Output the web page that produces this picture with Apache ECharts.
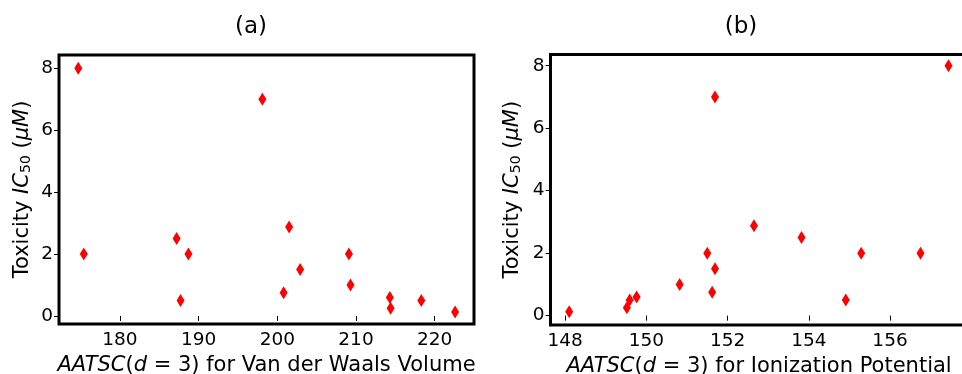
<!DOCTYPE html>
<html>
<head>
<meta charset="utf-8">
<script src="https://cdn.jsdelivr.net/npm/echarts@6/dist/echarts.min.js"></script>
<style>
html,body{margin:0;padding:0;background:#fff;}
#chart{width:962px;height:374px;}
</style>
</head>
<body>
<div id="chart"></div>
<script>
// (a) AATSC(d=3) for Van der Waals Volume
const xA = [174.7, 175.4, 187.2, 187.7, 188.7, 198.1, 200.8, 201.5, 202.9, 209.1, 209.3, 214.3, 214.4, 218.3, 222.6];
const yA = [8, 2, 2.5, 0.5, 2, 7, 0.75, 2.875, 1.5, 2, 1, 0.6, 0.25, 0.5, 0.125];
// (b) AATSC(d=3) for Ionization Potential
const xB = [148.1, 149.52, 149.59, 149.76, 150.82, 151.5, 151.62, 151.69, 151.69, 152.65, 153.82, 154.91, 155.29, 156.75, 157.44];
const yB = [0.125, 0.25, 0.5, 0.6, 1, 2, 0.75, 1.5, 7, 2.875, 2.5, 0.5, 2, 2, 8];
// tick labels
const xTicksA = [180, 190, 200, 210, 220];
const xTicksB = [148, 150, 152, 154, 156];
const yTicks = [0, 2, 4, 6, 8];
const titles = ['(a)', '(b)'];
const xNames = ['{i|AATSC}({i|d} = 3) for Van der Waals Volume', '{i|AATSC}({i|d} = 3) for Ionization Potential'];
const yName = 'Toxicity {i|IC}{sub|50} ({i|μM})';

const FONT = 'DejaVu Sans';
const NAME_SIZE = 21;
const rich = {
  i: {fontStyle: 'italic', fontFamily: FONT, fontSize: NAME_SIZE, color: '#000'},
  sub: {fontFamily: FONT, fontSize: 14, color: '#000', verticalAlign: 'bottom', lineHeight: 15}
};

function xAxis(idx, min, max, ticks, name) {
  return {
    type: 'value', gridIndex: idx, min: min, max: max,
    name: name, nameLocation: 'middle', nameGap: 26,
    nameTextStyle: {fontFamily: FONT, fontSize: NAME_SIZE, color: '#000', rich: rich},
    axisLine: {show: false},
    axisTick: {show: true, length: 5, customValues: ticks, lineStyle: {color: '#000', width: 1}},
    axisLabel: {customValues: ticks, fontFamily: FONT, fontSize: 18.5, color: '#000', margin: 7},
    splitLine: {show: false}
  };
}
function yAxis(idx, min, max, gap) {
  return {
    type: 'value', gridIndex: idx, min: min, max: max,
    name: yName, nameLocation: 'middle', nameGap: gap, nameRotate: 90,
    nameTextStyle: {fontFamily: FONT, fontSize: NAME_SIZE, color: '#000', rich: rich},
    axisLine: {show: false},
    axisTick: {show: true, length: 5, customValues: yTicks, lineStyle: {color: '#000', width: 1}},
    axisLabel: {customValues: yTicks, fontFamily: FONT, fontSize: 18.5, color: '#000', margin: 6},
    splitLine: {show: false}
  };
}

const chart = echarts.init(document.getElementById('chart'), null, {renderer: 'canvas'});
chart.setOption({
  animation: false,
  backgroundColor: '#fff',
  grid: [
    {left: 59, right: 488, top: 55, bottom: 50, show: true, borderWidth: 3, borderColor: '#000', backgroundColor: 'transparent', containLabel: false, outerBoundsMode: 'none'},
    {left: 550.5, right: -5.6, top: 54.5, bottom: 49, show: true, borderWidth: 3, borderColor: '#000', backgroundColor: 'transparent', containLabel: false, outerBoundsMode: 'none'}
  ],
  xAxis: [
    xAxis(0, 172.25, 225.0, xTicksA, xNames[0]),
    xAxis(1, 147.64, 157.91, xTicksB, xNames[1])
  ],
  yAxis: [
    yAxis(0, -0.26, 8.43, 26),
    yAxis(1, -0.30, 8.36, 27.5)
  ],
  graphic: [
    {type: 'text', x: 251, y: 27, style: {text: titles[0], font: '23px "DejaVu Sans"', fill: '#000', textAlign: 'center', textVerticalAlign: 'middle'}},
    {type: 'text', x: 741, y: 27, style: {text: titles[1], font: '23px "DejaVu Sans"', fill: '#000', textAlign: 'center', textVerticalAlign: 'middle'}}
  ],
  series: [
    {type: 'scatter', xAxisIndex: 0, yAxisIndex: 0, symbol: 'diamond', symbolSize: [8, 13],
     itemStyle: {color: '#ff0000', opacity: 1}, data: xA.map((x, k) => [x, yA[k]])},
    {type: 'scatter', xAxisIndex: 1, yAxisIndex: 1, symbol: 'diamond', symbolSize: [8, 13],
     itemStyle: {color: '#ff0000', opacity: 1}, data: xB.map((x, k) => [x, yB[k]])}
  ]
});
</script>
</body>
</html>
